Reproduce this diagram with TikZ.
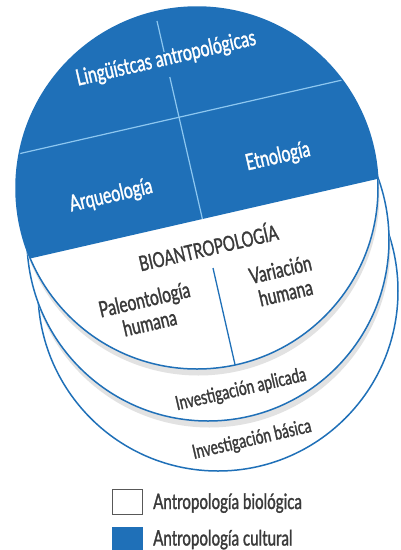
\documentclass[tikz,border=0pt]{standalone}
\usepackage{fontspec}
\setmainfont{Lato}[FakeStretch=0.71, FakeBold=1.3]
\usetikzlibrary{calc}
\definecolor{cblue}{HTML}{1F70B8}
\definecolor{lblue}{HTML}{8DC7F0}
\definecolor{tgray}{HTML}{3A3A3A}
\definecolor{shad}{HTML}{E2E2E2}
\tikzset{
  rim/.style={draw=cblue, line width=1.5pt},
  grid/.style={draw=lblue, line width=1.2pt},
  wlabel/.style={text=white, rotate=13, inner sep=0pt, font=\fontsize{22.5}{26}\selectfont},
  glabel/.style={text=tgray, rotate=13, inner sep=0pt, align=center, font=\fontsize{22}{24}\selectfont},
  slabel/.style={text=tgray, rotate=13, inner sep=0pt, font=\fontsize{19.6}{20}\selectfont},
  legtext/.style={text=tgray, inner sep=0pt, anchor=base west, font=\fontsize{21.3}{22}\selectfont},
}
\begin{document}
\begin{tikzpicture}[x=1pt,y=-1pt]
\useasboundingbox (0,0) rectangle (401,550);
\coordinate (c1) at (197,188);
\coordinate (c2) at (208,240);
\coordinate (c3) at (218,291);
% disk 3
\path[fill=white, rim] (c3) circle[radius=180];
\begin{scope}
  \clip (c3) circle[radius=180];
  \fill[shad] ($(c2)+(1.4,6.5)$) circle[radius=181];
\end{scope}
% disk 2
\path[fill=white, rim] (c2) circle[radius=181];
\begin{scope}
  \clip (c2) circle[radius=181];
  \fill[shad] ($(c1)+(1.4,6.5)$) circle[radius=181];
\end{scope}
% disk 1
\fill[white] (c1) circle[radius=181];
\begin{scope}
  \clip (c1) circle[radius=181];
  \fill[cblue] (0,265.4) -- (401,173.5) -- (401,0) -- (0,0) -- cycle;
  \draw[grid] (0,158.1) -- (401,66.6);
  \draw[grid] (157,21) -- (164.1,52);
  \draw[grid] (169.8,77) -- (202.4,219);
  \draw[rim, line width=1.3pt] (213,268) -- (236.7,372);
\end{scope}
\draw[rim] (c1) circle[radius=181];
% labels
\node[wlabel] (ling) at (166,59) {Lingüístcas antropológicas};
\node[wlabel] (etno) at (278,157) {Etnología};
\node[wlabel] (arq) at (111,196) {Arqueología};
\node[glabel, font=\fontsize{21}{22}\selectfont] (bio) at (208,246) {BIOANTROPOLOGÍA};
\node[glabel] (var) at (283,281) {Variación\\humana};
\node[glabel] (pal) at (147,311) {Paleontología\\humana};
\node[slabel] (apl) at (241,390) {Investigación aplicada};
\node[slabel] (bas) at (252,440) {Investigación básica};
% legend
\node[draw=tgray!85, line width=1.5pt, fill=white, minimum width=30pt, minimum height=25pt, inner sep=0pt] (lb1) at (127.5,502) {};
\node[fill=cblue, minimum width=31pt, minimum height=26pt, inner sep=0pt] (lb2) at (127.5,540) {};
\node[legtext] (lt1) at (153,509) {Antropología biológica};
\node[legtext] (lt2) at (153,545.5) {Antropología cultural};
\end{tikzpicture}
\end{document}
